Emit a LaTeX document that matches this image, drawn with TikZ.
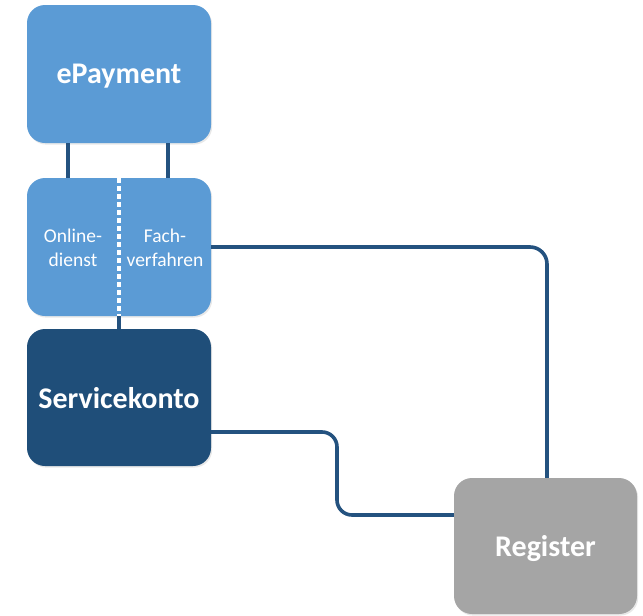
\documentclass[tikz,border=0pt]{standalone}
\usepackage{fontspec}
\setmainfont{Carlito}
\usetikzlibrary{shadows,calc}
\definecolor{midblue}{HTML}{5B9BD5}
\definecolor{darkblue}{HTML}{1F4E79}
\definecolor{linkblue}{HTML}{24527F}
\definecolor{greybox}{HTML}{A5A5A5}
\tikzset{
  box/.style={draw=none, rounded corners=18pt, minimum width=184pt, minimum height=138pt,
    inner sep=0pt, text=white, align=center, text depth=0pt,
    drop shadow={opacity=0.18, shadow xshift=1.2pt, shadow yshift=-1.6pt}},
  bigtext/.style={font=\fontsize{30}{33}\selectfont\bfseries},
  smalltext/.style={text=white, align=center, font=\fontsize{19.5}{23.5}\selectfont, inner sep=0pt},
  link/.style={draw=linkblue, line width=3.6pt, rounded corners=17pt},
  divider/.style={draw=white, line width=3.2pt, dash pattern=on 5pt off 3pt}
}
\begin{document}
\begin{tikzpicture}[x=1pt,y=-1pt]
\useasboundingbox (0,0) rectangle (643,616);
\node[box, fill=midblue, bigtext] (ep) at (119,74) {ePayment};
\node[box, fill=midblue] (mid) at (119,247) {};
\node[box, fill=darkblue, minimum height=137pt, bigtext] (svc) at (119,397.5) {Servicekonto};
\node[box, fill=greybox, minimum width=183pt, minimum height=136pt, bigtext] (reg) at (545.5,546) {Register};
\node[smalltext] (on) at (73,248) {Online-\\dienst};
\node[smalltext] (fv) at (165,248) {Fach-\\verfahren};
% connectors
\draw[link, rounded corners=0pt] ([xshift=-51pt]ep.south) -- ([xshift=-51pt]mid.north);
\draw[link, rounded corners=0pt] ([xshift=49pt]ep.south) -- ([xshift=49pt]mid.north);
\draw[divider] (mid.north) -- (mid.south);
\draw[link, rounded corners=0pt] (mid.south) -- (svc.north);
\coordinate (rx) at (547,0);
\draw[link] (mid.east) -- (mid.east -| rx) -- (rx |- reg.north);
\coordinate (a) at ([yshift=-34.5pt]svc.east);
\coordinate (b) at ([yshift=31pt]reg.west);
\coordinate (bx) at (337,0);
\draw[link, rounded corners=15pt] (a) -- (a -| bx) -- (bx |- b) -- (b);
\end{tikzpicture}
\end{document}
